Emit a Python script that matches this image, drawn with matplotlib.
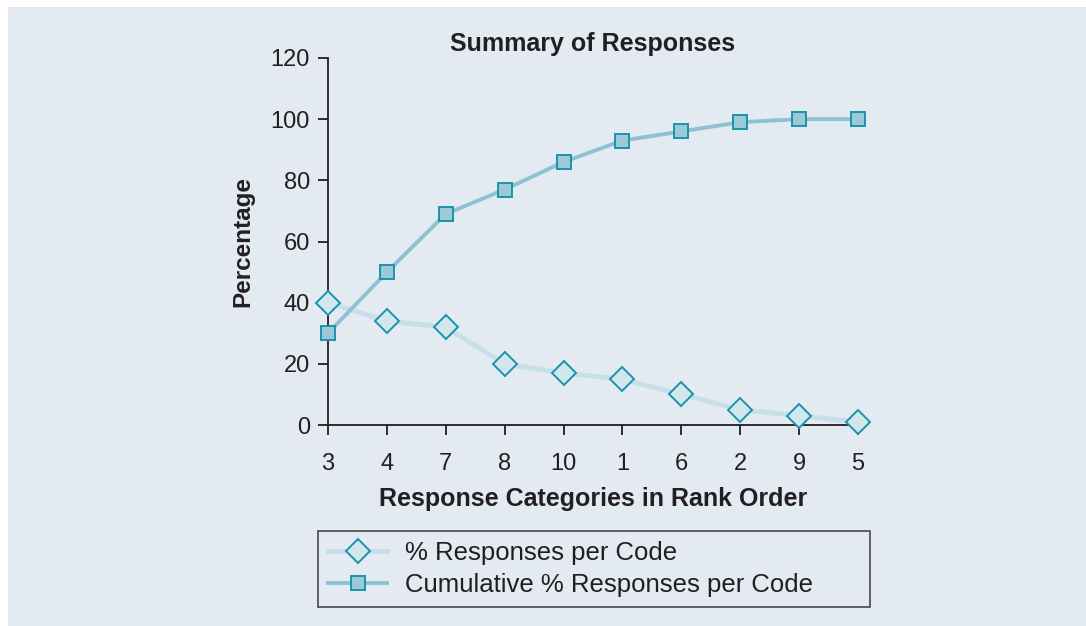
import numpy as np
import matplotlib.pyplot as plt
from matplotlib.patches import Rectangle

plt.rcParams['font.family'] = ['Liberation Sans', 'DejaVu Sans']

categories = ['3', '4', '7', '8', '10', '1', '6', '2', '9', '5']
pct = [40, 34, 32, 20, 17, 15, 10, 5, 3, 1]
cum_pct = [30, 50, 69, 77, 86, 93, 96, 99, 100, 100]

bg = '#e3eaf1'
edge = '#1a93ad'
ink = '#231f20'

fig = plt.figure(figsize=(10.86, 6.26), dpi=100)
fig.patch.set_facecolor('white')
fig.patches.append(Rectangle((8 / 1086, 0), 1 - 8 / 1086, 1 - 7 / 626,
                             transform=fig.transFigure, facecolor=bg,
                             edgecolor='none', zorder=-10))

ax = fig.add_axes([328 / 1086, 1 - 425 / 626, 530 / 1086, 367 / 626])
ax.set_facecolor('none')

x = np.arange(len(categories))
ax.plot(x, pct, color='#c7dfe8', lw=3.5, marker='D', ms=12,
        mfc='#d2e6ee', mec=edge, mew=1.4, label='% Responses per Code',
        zorder=3, clip_on=False)
ax.plot(x, cum_pct, color='#8ec2d2', lw=2.8, marker='s', ms=9.5,
        mfc='#9dc9d7', mec=edge, mew=1.4, label='Cumulative % Responses per Code',
        zorder=3, clip_on=False)

ax.set_xlim(0, len(categories) - 1)
ax.set_ylim(0, 120)
ax.set_yticks(range(0, 121, 20))
ax.set_xticks(x)
ax.set_xticklabels(categories)
for s in ['top', 'right']:
    ax.spines[s].set_visible(False)
for s in ['left', 'bottom']:
    ax.spines[s].set_color(ink)
    ax.spines[s].set_linewidth(1.3)
ax.tick_params(axis='both', colors=ink, labelsize=17, length=7, width=1.3)
ax.tick_params(axis='x', pad=13)
ax.tick_params(axis='y', pad=6)

ax.set_title('Summary of Responses', fontsize=18, fontweight='bold', color=ink, pad=5)
ax.set_xlabel('Response Categories in Rank Order', fontsize=18, fontweight='bold',
              color=ink, labelpad=9)
ax.set_ylabel('Percentage', fontsize=17.5, fontweight='bold', color=ink, labelpad=12)

leg = fig.legend(loc='upper left', mode='expand', borderaxespad=0,
                 bbox_to_anchor=(318 / 1086, 18 / 626, 552 / 1086, 77 / 626),
                 fontsize=18.5, frameon=True, fancybox=False, handlelength=2.3,
                 borderpad=0.4, labelspacing=0.3, handletextpad=0.7)
leg.get_frame().set_facecolor(bg)
leg.get_frame().set_edgecolor(ink)
leg.get_frame().set_linewidth(1.2)
for t in leg.get_texts():
    t.set_color(ink)

fig.savefig('out.png', dpi=100, facecolor=fig.get_facecolor())
